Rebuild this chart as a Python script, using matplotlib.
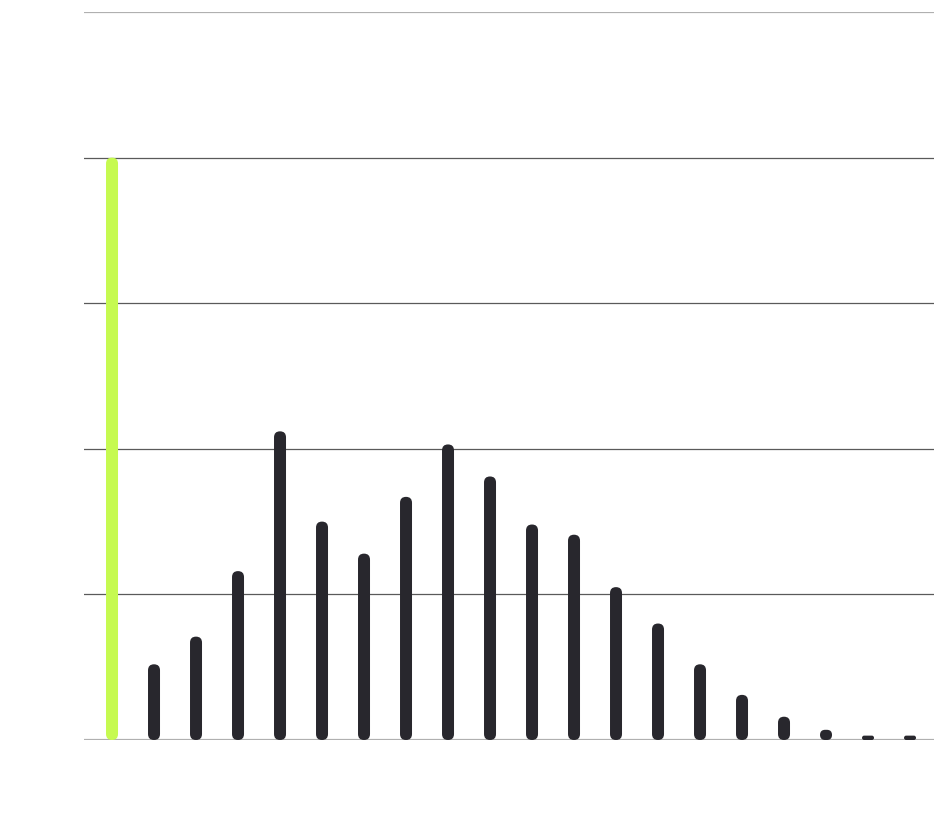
import numpy as np
import matplotlib.pyplot as plt
from matplotlib.patches import FancyBboxPatch

# bar heights (gridline = 1 unit)
values = [4.0, 0.52, 0.71, 1.16, 2.12, 1.50, 1.28, 1.67, 2.03, 1.81,
          1.48, 1.41, 1.05, 0.80, 0.52, 0.31, 0.16, 0.07, 0.03, 0.03]
highlight = [True] + [False] * 19
grid_levels = [0, 1, 2, 3, 4, 5]

green = "#c6fa50"
dark = "#28272d"

fig = plt.figure(figsize=(9.34, 8.25), dpi=100)
ax = fig.add_axes([84 / 934, 85 / 825, 850 / 934, 728 / 825])
ax.set_xlim(-0.667, 19.571)
ax.set_ylim(0, 5)
ax.axis("off")

# gridlines
for g in grid_levels:
    if g in (0, 5):
        ax.axhline(g, color="#b0b0b0", lw=1.6, zorder=1)
    else:
        ax.axhline(g, color="#5a5a5a", lw=0.9, zorder=1)

# pill shaped bars with rounded ends
px_x = 850 / (19.571 + 0.667)   # pixels per x unit
px_y = 728 / 5                  # pixels per y unit
bar_px = 12
w = bar_px / px_x
for i, (v, hl) in enumerate(zip(values, highlight)):
    h_px = v * px_y
    rs = min(bar_px / 2, h_px / 2) / px_x
    box = FancyBboxPatch((i - w / 2, 0), w, v,
                         boxstyle=f"round,pad=0,rounding_size={rs}",
                         mutation_aspect=px_x / px_y,
                         facecolor=green if hl else dark,
                         edgecolor="none", zorder=3)
    ax.add_patch(box)

fig.savefig("out.png", dpi=100)
